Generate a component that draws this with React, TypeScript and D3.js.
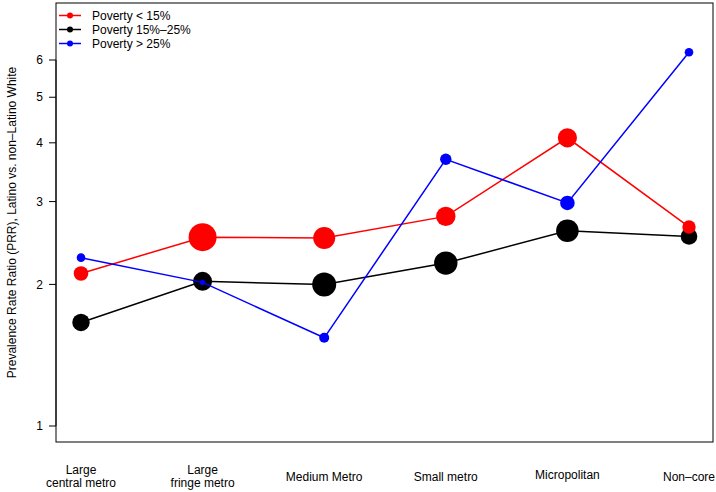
import React from "react";
import * as d3 from "d3";

const categories = [
  "Large\ncentral metro",
  "Large\nfringe metro",
  "Medium Metro",
  "Small metro",
  "Micropolitan",
  "Non\u2013core",
];

const seriesNames = ["Poverty < 15%", "Poverty 15%\u201325%", "Poverty > 25%"];
const seriesColors = ["#ff0000", "#000000", "#0000ff"];

const povertyLow = [2.11, 2.52, 2.51, 2.79, 4.1, 2.65];
const povertyMid = [1.66, 2.03, 2.0, 2.22, 2.6, 2.53];
const povertyHigh = [2.28, 2.02, 1.54, 3.69, 2.98, 6.23];

const sizeLow = [7.3, 14, 11, 9.7, 9.6, 6.7];
const sizeMid = [8.7, 9.5, 12, 11.7, 11.3, 8.3];
const sizeHigh = [4.3, 2.7, 5, 5.7, 7.3, 4.3];

const yTicks = [1, 2, 3, 4, 5, 6];

const W = 716;
const H = 492;
const box = { left: 56, right: 713, top: 3, bottom: 442 };
const FONT = "'Liberation Sans', Arial, Helvetica, sans-serif";

export default function App() {
  const x = d3
    .scalePoint<string>()
    .domain(categories)
    .range([81, 689]);
  const y = d3.scaleLog().domain([1, 6]).range([426, 60]);

  const series = [
    { name: seriesNames[0], color: seriesColors[0], values: povertyLow, sizes: sizeLow },
    { name: seriesNames[1], color: seriesColors[1], values: povertyMid, sizes: sizeMid },
    { name: seriesNames[2], color: seriesColors[2], values: povertyHigh, sizes: sizeHigh },
  ];
  const drawOrder = [1, 0, 2];

  const line = d3
    .line<number>()
    .x((_, i) => x(categories[i]) as number)
    .y((d) => y(d));

  return (
    <svg
      width={W}
      height={H}
      style={{ position: "absolute", left: 0, top: 0, background: "#fff" }}
      fontFamily={FONT}
    >
      <rect x={0} y={0} width={W} height={H} fill="#fff" />
      {drawOrder.map((si) => {
        const s = series[si];
        return (
          <g key={s.name}>
            <path d={line(s.values) || ""} fill="none" stroke={s.color} strokeWidth={1.5} />
            {s.values.map((v, i) => (
              <circle
                key={i}
                cx={x(categories[i]) as number}
                cy={y(v)}
                r={s.sizes[i]}
                fill={s.color}
              />
            ))}
          </g>
        );
      })}
      {/* plot box */}
      <rect
        x={box.left}
        y={box.top}
        width={box.right - box.left}
        height={box.bottom - box.top}
        fill="none"
        stroke="#000"
        strokeWidth={1}
      />
      {/* y axis */}
      <line x1={box.left} x2={box.left} y1={y(1)} y2={y(6)} stroke="#000" />
      {yTicks.map((t) => (
        <g key={t}>
          <line x1={49} x2={box.left} y1={y(t)} y2={y(t)} stroke="#000" />
          <text x={43} y={y(t)} dy="0.35em" textAnchor="end" fontSize={12}>
            {t}
          </text>
        </g>
      ))}
      <text
        transform={`translate(12, ${(box.top + box.bottom) / 2}) rotate(-90)`}
        textAnchor="middle"
        dy="0.35em"
        fontSize={12}
      >
        Prevalence Rate Ratio (PRR), Latino vs. non–Latino White
      </text>
      {/* x labels */}
      {categories.map((c) => {
        const lines = c.split("\n");
        const cx = x(c) as number;
        const base = lines.length === 1 ? (c === "Micropolitan" ? 479 : 481) : 474;
        return (
          <text key={c} x={cx} textAnchor="middle" fontSize={12}>
            {lines.map((l, j) => (
              <tspan key={j} x={cx} y={base + j * 13}>
                {l}
              </tspan>
            ))}
          </text>
        );
      })}
      {/* legend */}
      {series.map((s, i) => {
        const ly = 15.5 + i * 14;
        return (
          <g key={s.name}>
            <line x1={59} x2={81} y1={ly} y2={ly} stroke={s.color} strokeWidth={1.5} />
            <circle cx={70} cy={ly} r={3} fill={s.color} />
            <text x={92} y={ly} dy="0.35em" fontSize={12}>
              {s.name}
            </text>
          </g>
        );
      })}
    </svg>
  );
}
